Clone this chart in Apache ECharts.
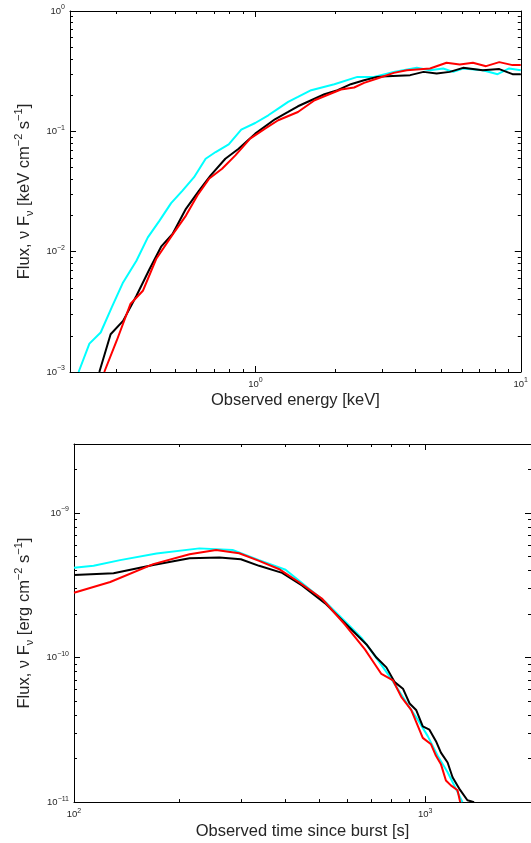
<!DOCTYPE html>
<html><head><meta charset="utf-8">
<script src="https://cdn.jsdelivr.net/npm/echarts@6/dist/echarts.min.js"></script>
<style>html,body{margin:0;padding:0;background:#fff}#c{width:531px;height:843px}</style>
</head><body><div id="c"></div>
<script>
// ---- Top panel: spectrum (energy keV, flux) ----
const specCyan = [[0.2155,0.00100],[0.2367,0.00172],[0.261,0.00213],[0.287,0.00343],[0.317,0.00555],[0.356,0.00841],[0.393,0.01316],[0.435,0.01813],[0.481,0.0253],[0.531,0.0322],[0.587,0.0416],[0.649,0.0592],[0.708,0.0673],[0.793,0.078],[0.884,0.1033],[0.998,0.1173],[1.118,0.136],[1.218,0.1545],[1.328,0.1755],[1.446,0.193],[1.622,0.2197],[1.983,0.2465],[2.423,0.2835],[2.797,0.2835],[3.322,0.312],[4.057,0.337],[4.55,0.322],[5.10,0.333],[5.56,0.312],[6.06,0.333],[7.19,0.322],[8.18,0.2985],[9.04,0.333],[10,0.322]];
const specBlack = [[0.258,0.00100],[0.2845,0.00206],[0.317,0.00266],[0.356,0.0043],[0.399,0.00718],[0.441,0.0110],[0.487,0.01403],[0.547,0.0227],[0.613,0.0322],[0.678,0.043],[0.77,0.0592],[0.864,0.0717],[0.998,0.0957],[1.184,0.126],[1.328,0.1448],[1.446,0.1615],[1.622,0.1813],[1.82,0.2034],[2.04,0.2197],[2.288,0.2465],[2.567,0.266],[2.877,0.2835],[3.135,0.2873],[3.83,0.293],[4.30,0.312],[4.82,0.303],[5.40,0.312],[6.06,0.337],[7.19,0.322],[8.30,0.329],[9.31,0.2985],[10,0.2985]];
const specRed = [[0.2693,0.00100],[0.2996,0.00181],[0.3378,0.00367],[0.3765,0.00473],[0.4224,0.00869],[0.487,0.01387],[0.547,0.01995],[0.604,0.0293],[0.668,0.0403],[0.7485,0.0489],[0.840,0.0631],[0.955,0.0869],[1.087,0.1053],[1.218,0.1236],[1.446,0.1448],[1.671,0.1813],[1.927,0.2062],[2.099,0.2226],[2.355,0.2313],[2.567,0.2526],[2.877,0.2749],[3.322,0.306],[3.72,0.322],[4.55,0.333],[5.25,0.371],[5.89,0.36],[6.6,0.371],[7.4,0.348],[8.30,0.376],[9.31,0.355],[10,0.355]];

// ---- Bottom panel: light curve (time s, flux) ----
const lcCyan = [[100,4.18e-10],[113.7,4.31e-10],[135.3,4.72e-10],[171.8,5.24e-10],[227.6,5.69e-10],[282.7,5.54e-10],[336.5,4.72e-10],[400.2,4.05e-10],[519,2.43e-10],[617.2,1.60e-10],[658.6,1.368e-10],[718.7,1.027e-10],[800.6,7.12e-11],[892.6,4.69e-11],[952.4,3.71e-11],[1016.4,2.86e-11],[1084.6,2.09e-11],[1157.7,1.61e-11],[1221.8,1.24e-11],[1276.2,1.0e-11]];
const lcBlack = [[100,3.73e-10],[129.6,3.83e-10],[168.1,4.36e-10],[213.3,4.87e-10],[259.3,4.92e-10],[298.6,4.79e-10],[336.5,4.31e-10],[391.4,3.85e-10],[445.7,3.15e-10],[519,2.37e-10],[604,1.64e-10],[680.4,1.232e-10],[726.1,1.0e-10],[775,8.55e-11],[818.5,6.76e-11],[864,6.09e-11],[902.5,4.81e-11],[941.9,4.34e-11],[983.8,3.34e-11],[1027.7,3.17e-11],[1072.7,2.64e-11],[1108.1,2.20e-11],[1157.7,1.88e-11],[1195.9,1.486e-11],[1249.1,1.24e-11],[1318.3,1.03e-11],[1377.2,1.0e-11]];
const lcRed = [[100,2.81e-10],[126.8,3.33e-10],[168.1,4.43e-10],[213.3,5.18e-10],[253.8,5.54e-10],[295.3,5.26e-10],[336.5,4.66e-10],[382.8,4.10e-10],[436.3,3.33e-10],[507.7,2.56e-10],[591.4,1.685e-10],[673.3,1.139e-10],[703,9.74e-11],[750.1,7.70e-11],[809.5,6.94e-11],[854.4,5.35e-11],[911.9,4.34e-11],[983.8,2.78e-11],[1038.5,2.51e-11],[1072.7,2.09e-11],[1108.1,1.83e-11],[1145,1.41e-11],[1182.8,1.305e-11],[1235.4,1.207e-11],[1257.2,1.0e-11]];

// ---- Tick values ----
const specXMajor = [1, 10];
const specXMinor = [0.2,0.3,0.4,0.5,0.6,0.7,0.8,0.9,2,3,4,5,6,7,8,9];
const specYMajor = [0.001, 0.01, 0.1, 1];
const specYMinor = [0.002,0.003,0.004,0.005,0.006,0.007,0.008,0.009,0.02,0.03,0.04,0.05,0.06,0.07,0.08,0.09,0.2,0.3,0.4,0.5,0.6,0.7,0.8,0.9];
const lcXMajor = [100, 1000];
const lcXMinor = [200,300,400,500,600,700,800,900,2000];
const lcYMajor = [1e-11, 1e-10, 1e-9];
const lcYMinor = [2e-11,3e-11,4e-11,5e-11,6e-11,7e-11,8e-11,9e-11,2e-10,3e-10,4e-10,5e-10,6e-10,7e-10,8e-10,9e-10,2e-9,3e-9];

const FF = '"Liberation Sans", Arial, Helvetica, sans-serif';
const LC = '#262626';

const labelRich = {
  b: {fontSize: 9.5, lineHeight: 14, fontFamily: FF, color: LC},
  e: {fontSize: 7, lineHeight: 8, verticalAlign: 'top', fontFamily: FF, color: LC}
};
function powLabel(v) {
  const l = Math.log10(v), r = Math.round(l);
  if (Math.abs(l - r) > 1e-6) return '';
  return '{b|10}{e|' + (r < 0 ? '\u2212' : '') + Math.abs(r) + '}';
}
const nameRich = {
  t: {fontSize: 16.5, lineHeight: 22, fontFamily: FF, color: LC},
  s: {fontSize: 11, lineHeight: 12, verticalAlign: 'bottom', fontFamily: FF, color: LC},
  p: {fontSize: 11, lineHeight: 12, verticalAlign: 'top', fontFamily: FF, color: LC}
};

function axisSet(dim, gi, min, max, minor, major, name, nameGap) {
  const positions = dim === 'x' ? ['bottom', 'top'] : ['left', 'right'];
  const out = [];
  positions.forEach((pos, pi) => {
    out.push({
      type: 'log', logBase: 10, gridIndex: gi, position: pos, min: min, max: max,
      axisLine: {show: true, onZero: false, lineStyle: {color: '#000', width: 1}},
      axisTick: {show: true, inside: true, length: 3, customValues: minor.concat(major), lineStyle: {color: '#000', width: 1}},
      axisLabel: pi === 0 ? {show: true, customValues: major, formatter: powLabel, margin: 5, rich: labelRich, hideOverlap: false} : {show: false},
      minorTick: {show: false}, splitLine: {show: false},
      name: pi === 0 ? name : '', nameLocation: 'middle', nameGap: nameGap,
      nameTextStyle: {rich: nameRich, fontSize: 16.5, lineHeight: 22, fontFamily: FF, color: LC}
    });
    out.push({
      type: 'log', logBase: 10, gridIndex: gi, position: pos, min: min, max: max,
      axisLine: {show: false, onZero: false},
      axisTick: {show: true, inside: true, length: 6, customValues: major, lineStyle: {color: '#000', width: 1}},
      axisLabel: {show: false}, minorTick: {show: false}, splitLine: {show: false}
    });
  });
  return out;
}

const xAxes = [].concat(
  axisSet('x', 0, 0.2, 10, specXMinor, specXMajor, '{t|Observed energy [keV]}', 16),
  axisSet('x', 1, 100, 2000, lcXMinor, lcXMajor, '{t|Observed time since burst [s]}', 14)
);
const yAxes = [].concat(
  axisSet('y', 0, 0.001, 1, specYMinor, specYMajor, '{t|Flux, \u03bd F}{s|\u03bd}{t| [keV cm}{p|\u22122}{t| s}{p|\u22121}{t|]}', 33),
  axisSet('y', 1, 1e-11, 3e-9, lcYMinor, lcYMajor, '{t|Flux, \u03bd F}{s|\u03bd}{t| [erg cm}{p|\u22122}{t| s}{p|\u22121}{t|]}', 36)
);

function line(data, color, gi) {
  return {
    type: 'line', data: data, xAxisIndex: gi * 4, yAxisIndex: gi * 4,
    showSymbol: false, symbol: 'none', clip: true, animation: false,
    lineStyle: {color: color, width: 2}, itemStyle: {color: color}
  };
}

const chart = echarts.init(document.getElementById('c'), null, {renderer: 'canvas'});
chart.setOption({
  backgroundColor: '#fff',
  animation: false,
  grid: [
    {left: 70, top: 11, width: 455, height: 361},
    {left: 74, top: 444, width: 460, height: 363}
  ],
  xAxis: xAxes,
  yAxis: yAxes,
  series: [
    line(specCyan, '#00ffff', 0), line(specBlack, '#000000', 0), line(specRed, '#ff0000', 0),
    line(lcCyan, '#00ffff', 1), line(lcBlack, '#000000', 1), line(lcRed, '#ff0000', 1)
  ]
});
</script>
</body></html>
